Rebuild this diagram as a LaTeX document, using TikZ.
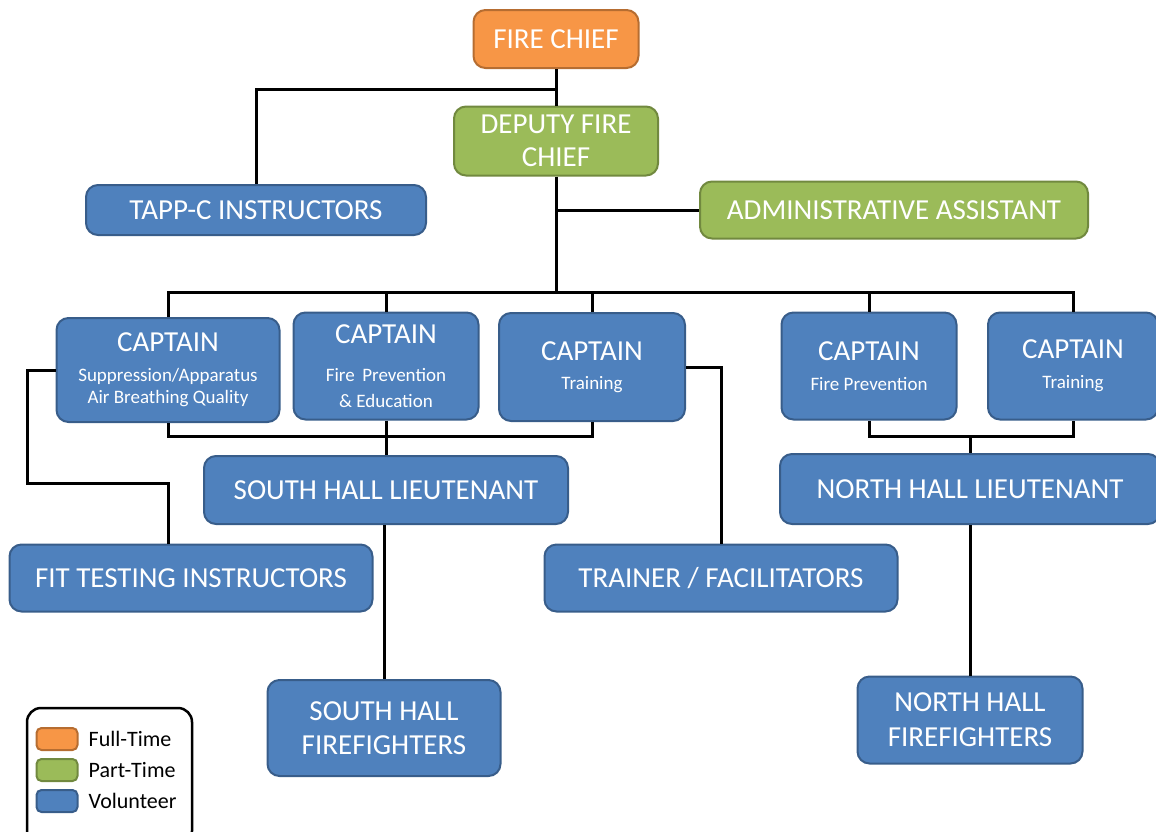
\documentclass[tikz,border=0pt]{standalone}
\usepackage{fontspec}
\setmainfont{Carlito}
\usetikzlibrary{positioning}

\definecolor{fullorange}{HTML}{F79646}
\definecolor{fullline}{HTML}{B66D31}
\definecolor{partgreen}{HTML}{9BBB59}
\definecolor{partline}{HTML}{71893F}
\definecolor{volblue}{HTML}{4F81BD}
\definecolor{volline}{HTML}{385D8A}

\newcommand{\subline}[1]{{\fontsize{19}{22}\selectfont #1}}

\begin{document}
\begin{tikzpicture}[
        x=1pt, y=-1pt,
        post/.style={rectangle, draw, line width=2pt, rounded corners=12pt, text=white, align=center, inner sep=0pt, font=\fontsize{29}{22}\selectfont},
        fulltime/.style={post, fill=fullorange, draw=fullline},
        parttime/.style={post, fill=partgreen, draw=partline},
        volunteer/.style={post, fill=volblue, draw=volline},
        swatch/.style={rectangle, rounded corners=5pt, line width=2pt, minimum width=41pt, minimum height=22pt, inner sep=0pt},
        legendtext/.style={inner sep=0pt, font=\fontsize{22}{24}\selectfont},
        wire/.style={line width=3pt}
    ]
        \useasboundingbox (0,0) rectangle (1156,831);

        % top of the chart
        \node[fulltime, minimum width=165pt, minimum height=58pt] (chief) at (556,39) {FIRE CHIEF};
        \node[parttime, minimum width=204pt, minimum height=69pt] (deputy) at (556,141) {DEPUTY FIRE\\[11pt]CHIEF};
        \node[volunteer, minimum width=340pt, minimum height=50pt] (tapp) at (256,210) {TAPP-C INSTRUCTORS};
        \node[parttime, minimum width=388pt, minimum height=57pt] (admin) at (894,210) {ADMINISTRATIVE ASSISTANT};

        % captains
        \node[volunteer, minimum width=223pt, minimum height=104pt] (cap1) at (168,370) {CAPTAIN\\[8pt]\subline{Suppression/Apparatus}\\\subline{Air Breathing Quality}};
        \node[volunteer, minimum width=185pt, minimum height=107pt] (cap2) at (386,366) {CAPTAIN\\[16pt]\subline{Fire\, Prevention}\\[4pt]\subline{\& Education}};
        \node[volunteer, minimum width=186pt, minimum height=108pt] (cap3) at (592,367) {CAPTAIN\\[7pt]\subline{Training}};
        \node[volunteer, minimum width=175pt, minimum height=107pt] (cap4) at (869,366) {CAPTAIN\\[8pt]\subline{Fire Prevention}};
        \node[volunteer, minimum width=170pt, minimum height=107pt] (cap5) at (1073,366) {CAPTAIN\\[8pt]\subline{Training}};

        % halls
        \node[volunteer, minimum width=364pt, minimum height=68pt] (southlt) at (386,490) {SOUTH HALL LIEUTENANT};
        \node[volunteer, minimum width=380pt, minimum height=70pt] (northlt) at (970,489) {NORTH HALL LIEUTENANT};
        \node[volunteer, minimum width=363pt, minimum height=67pt] (fit) at (191,578) {FIT TESTING INSTRUCTORS};
        \node[volunteer, minimum width=353pt, minimum height=67pt] (trainer) at (721,578) {TRAINER / FACILITATORS};
        \node[volunteer, minimum width=233pt, minimum height=96pt] (southff) at (384,728) {SOUTH HALL\\[12pt]FIREFIGHTERS};
        \node[volunteer, minimum width=225pt, minimum height=87pt] (northff) at (970,720) {NORTH HALL\\[13pt]FIREFIGHTERS};

        % legend
        \node[draw, line width=2.5pt, rounded corners=14pt, minimum width=165pt, minimum height=137pt] (legend) at (109.5,776.5) {};
        \node[swatch, fill=fullorange, draw=fullline] (keyfull) at (57,739) {};
        \node[swatch, fill=partgreen, draw=partline] (keypart) at (57,770) {};
        \node[swatch, fill=volblue, draw=volline] (keyvol) at (57,801) {};
        \node[legendtext, right=10pt of keyfull] (labfull) {Full-Time};
        \node[legendtext, right=10pt of keypart] (labpart) {Part-Time};
        \node[legendtext, right=10pt of keyvol] (labvol) {Volunteer};

        \coordinate (chiefjoin) at (556,89);
        \coordinate (bus) at (556,292);
        \coordinate (southjoin) at (386,436);
        \coordinate (northjoin) at (970,436);
        \coordinate (fitbend) at (27,483);

        \draw[wire] (chief) -- (deputy);
        \draw[wire] (chiefjoin) -| (tapp.north);
        \draw[wire] (deputy.south) -- (bus);
        \draw[wire] (deputy.south |- admin.west) -- (admin.west);
        \draw[wire] (cap1.north) -- (cap1.north |- bus) -- (cap5.north |- bus) -- (cap5.north);
        \foreach \c in {cap2, cap3, cap4}
            \draw[wire] (\c.north) -- (\c.north |- bus);

        \draw[wire] (cap1.south) |- (southjoin) -| (cap3.south);
        \draw[wire] (cap2.south) -- (southlt.north);
        \draw[wire] (cap1.west) -| (fitbend) -| (fit.north -| cap1.south);
        \draw[wire] (cap3.east) -| (trainer.north);
        \draw[wire] (southff.north |- southlt.south) -- (southff.north);

        \draw[wire] (cap4.south) |- (northjoin) -| (cap5.south);
        \draw[wire] (northjoin) -- (northlt.north);
        \draw[wire] (northlt) -- (northff);
    \end{tikzpicture}
\end{document}
